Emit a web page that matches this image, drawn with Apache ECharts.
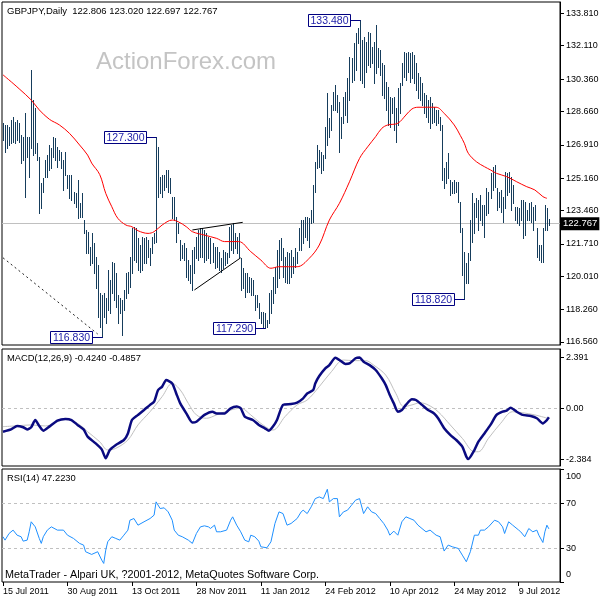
<!DOCTYPE html>
<html><head><meta charset="utf-8">
<script src="https://cdn.jsdelivr.net/npm/echarts@6/dist/echarts.min.js"></script>
<style>html,body{margin:0;padding:0;background:#fff}#c{width:600px;height:600px}</style>
</head><body><div id="c"></div>
<script>
// ---------- data ----------
const N_SLOTS = 277; // bar slots along the time axis (272 bars + empty right margin)
const dateLabels = ['15 Jul 2011','30 Aug 2011','13 Oct 2011','28 Nov 2011','11 Jan 2012','24 Feb 2012','10 Apr 2012','24 May 2012','9 Jul 2012'];
const LABEL_STEP = 32;
const priceTicks = [133.81,132.11,130.36,128.66,126.91,125.16,123.46,121.71,120.01,118.26,116.56];
const macdTicks = [2.391, 0, -2.384];
const rsiTicks = [100, 70, 30, 0];
const lastClose = 122.767;

const barHigh = [
128.04,127.95,127.95,127.86,128.21,128.38,128.12,128.21,128.04,127.42,
127.34,128.56,127.34,127.34,130.83,129.26,128.82,126.99,126.29,124.89,
125.15,126.11,126.37,126.90,126.72,127.34,127.25,126.81,126.64,126.55,
126.11,126.55,125.32,125.32,125.32,124.45,124.36,125.06,123.84,124.36,
122.96,122.44,122.35,121.56,122.26,121.77,121.04,120.60,119.11,119.03,
119.11,118.85,120.34,119.81,120.78,120.69,120.16,119.03,118.85,118.76,
119.29,120.16,120.25,121.04,122.52,122.61,122.52,122.00,121.65,122.09,
122.00,122.09,121.91,121.48,122.09,122.26,127.30,126.81,125.24,125.32,
125.32,125.59,125.59,125.15,124.19,124.19,123.14,122.79,121.91,121.65,
121.74,121.48,120.86,120.60,121.39,121.56,122.09,122.44,122.52,122.52,
122.44,122.26,122.09,122.00,121.74,121.56,121.56,121.30,120.95,121.39,
121.30,121.21,122.61,122.70,122.79,122.26,122.09,122.26,120.95,120.43,
120.16,120.16,119.99,119.90,119.81,119.03,119.03,118.59,118.15,118.15,
118.06,117.71,119.11,119.29,119.99,120.51,121.39,121.91,122.00,121.47,
121.04,121.30,121.21,121.39,121.04,121.47,121.30,122.52,122.96,122.96,
123.14,123.14,123.05,123.49,124.80,126.02,126.90,126.64,126.55,126.37,
127.86,129.61,128.30,128.99,129.70,130.05,129.52,129.17,128.39,129.43,
129.70,130.40,131.53,131.45,132.23,132.76,133.02,133.48,132.41,132.58,
132.32,132.85,132.76,132.06,132.32,133.20,131.99,131.90,131.19,131.10,
130.22,129.96,129.43,129.35,129.43,128.82,129.87,130.14,131.19,131.80,
131.71,131.80,131.71,131.80,131.62,131.19,130.66,130.48,130.14,129.61,
129.52,129.26,129.43,129.09,128.91,128.74,128.74,128.39,127.95,125.67,
126.02,126.46,125.06,124.97,125.06,124.97,124.97,123.93,122.52,121.30,
120.69,121.21,122.96,124.36,123.84,124.10,124.01,124.27,123.75,123.75,
124.62,124.45,125.41,125.76,125.85,124.62,124.45,124.54,124.19,125.50,
125.41,125.50,125.24,124.80,123.66,123.66,123.57,124.01,124.01,123.92,
123.49,123.84,123.92,123.66,123.75,122.52,121.65,121.65,122.52,123.75,
123.57,123.02];
const barLow = [
127.16,126.55,126.72,126.90,126.99,127.07,126.99,127.16,127.07,125.94,
126.11,124.19,126.29,125.24,126.72,126.37,126.46,126.11,123.31,123.57,
124.45,125.24,125.24,125.59,125.67,126.29,126.11,125.76,126.11,125.67,
124.54,125.32,124.62,124.10,124.01,123.84,123.66,123.05,123.14,123.14,
122.26,121.21,121.21,120.60,120.69,120.16,119.38,117.89,117.36,116.83,
117.89,117.54,118.24,118.06,119.11,118.76,118.41,117.54,118.06,116.93,
118.24,118.85,119.11,119.46,120.16,120.86,120.78,120.34,120.25,120.34,
120.69,120.69,121.04,120.60,121.21,121.74,121.83,124.19,124.36,124.19,
124.54,124.71,124.45,124.36,123.05,122.96,121.83,122.26,120.86,120.95,
120.86,119.99,119.81,119.64,119.29,120.16,120.95,120.86,121.04,121.04,
120.78,120.86,120.95,120.69,120.78,120.43,120.51,120.34,120.25,120.43,
120.60,120.69,121.04,121.39,121.21,121.48,121.21,121.04,119.29,119.38,
118.94,119.20,119.20,119.03,119.03,118.24,118.41,117.80,117.54,117.37,
117.29,117.37,117.54,118.06,118.59,119.11,119.46,119.90,120.86,119.99,
119.73,119.64,119.64,119.99,120.16,120.51,120.69,121.39,121.39,121.74,
122.09,121.91,121.56,122.79,122.87,124.45,125.67,125.76,125.41,125.59,
126.20,126.90,127.34,127.69,128.73,128.73,128.65,126.55,127.25,128.04,
128.47,128.12,129.26,130.22,130.31,130.83,132.23,130.31,130.13,129.96,
130.75,131.10,131.01,131.19,130.14,130.66,131.01,130.57,129.52,129.35,
128.74,127.95,127.86,128.56,127.69,127.07,127.95,128.56,130.05,130.48,
130.31,130.75,130.22,130.40,130.14,129.79,129.35,129.26,129.00,128.56,
128.39,128.12,127.77,128.04,128.12,127.95,128.04,127.69,125.06,124.62,
124.89,125.15,124.27,124.36,124.36,124.45,123.93,122.35,120.08,118.82,
119.64,119.64,120.86,121.82,122.26,123.14,122.44,122.96,122.70,122.09,
123.22,123.31,124.10,124.54,124.71,123.49,123.66,123.40,122.87,123.57,
124.27,124.45,123.49,123.84,122.96,122.79,122.70,122.96,122.00,122.17,
122.96,122.96,122.87,122.44,122.96,121.04,120.86,120.77,120.77,122.44,
122.44,122.70];

// moving average [barIndex, price]
const maLine = [[0,130.58],[5,130.13],[8,129.85],[14,129.26],[18,128.74],[23,128.25],[28,127.95],[33,127.51],[38,126.90],[42,126.37],[44,125.95],[48,125.35],[51,124.36],[54,123.66],[57,123.05],[61,122.70],[64,122.61],[67,122.40],[72,122.26],[75,122.35],[79,122.70],[84,122.96],[87,122.87],[91,122.61],[94,122.35],[100,122.17],[106,122.00],[110,121.83],[117,121.83],[123,121.30],[128,120.86],[133,120.43],[137,120.51],[146,120.51],[152,120.95],[157,121.65],[162,122.96],[167,123.84],[172,124.97],[177,126.20],[181,126.80],[185,127.34],[188,127.77],[191,127.95],[196,128.04],[200,128.47],[203,128.79],[206,128.88],[215,128.88],[219,128.56],[224,127.95],[227,127.40],[229,126.99],[231,126.46],[235,126.02],[239,125.76],[242,125.59],[245,125.41],[250,125.24],[255,124.97],[260,124.71],[264,124.54],[268,124.19],[270,124.10]];

// MACD main and signal [barIndex, value]
const macdMain = [[0,-1.10],[4,-0.99],[7,-0.83],[10,-0.89],[12,-0.99],[14,-0.89],[16,-0.55],[18,-0.83],[20,-1.05],[23,-0.86],[27,-0.58],[31,-0.50],[34,-0.55],[37,-0.78],[40,-0.99],[42,-1.33],[46,-1.65],[49,-1.93],[51,-2.35],[53,-1.96],[56,-1.72],[60,-1.49],[62,-1.18],[64,-0.55],[67,-0.31],[70,-0.08],[73,0.16],[75,0.31],[77,0.86],[79,1.02],[81,1.33],[84,1.17],[86,0.70],[88,0.23],[91,-0.24],[94,-0.67],[96,-0.63],[100,-0.31],[104,-0.16],[106,-0.24],[110,-0.24],[113,0.00],[116,0.08],[118,0.00],[120,-0.39],[124,-0.55],[127,-0.78],[130,-0.94],[132,-1.05],[134,-0.86],[136,-0.55],[139,0.16],[143,0.20],[146,0.27],[149,0.47],[151,0.70],[154,0.86],[155,1.17],[157,1.52],[160,1.88],[162,2.03],[165,2.37],[167,2.27],[170,2.08],[172,2.11],[175,2.35],[177,2.391],[179,2.19],[182,2.03],[185,1.80],[188,1.41],[190,1.09],[192,0.62],[194,0.23],[196,-0.16],[198,-0.08],[200,0.16],[203,0.42],[205,0.39],[208,0.16],[211,-0.08],[214,-0.24],[216,-0.47],[219,-0.94],[222,-1.25],[225,-1.49],[228,-1.80],[230,-2.27],[231,-2.384],[234,-1.96],[236,-1.57],[239,-1.18],[242,-0.78],[245,-0.31],[248,-0.16],[250,-0.11],[252,0.03],[255,-0.16],[258,-0.31],[262,-0.36],[265,-0.47],[268,-0.71],[270,-0.55],[271,-0.424]];
const macdSignal = [[0,-0.86],[6,-0.83],[14,-0.78],[21,-0.83],[31,-0.52],[37,-0.71],[42,-1.10],[48,-1.57],[52,-1.96],[56,-1.88],[62,-1.49],[67,-0.78],[73,-0.16],[79,0.55],[84,1.17],[88,0.86],[92,0.23],[96,-0.31],[101,-0.47],[106,-0.31],[113,-0.08],[118,0.00],[123,-0.31],[128,-0.71],[134,-1.02],[140,-0.39],[146,0.16],[151,0.39],[157,1.02],[163,1.72],[169,2.27],[174,2.24],[180,2.24],[184,2.03],[190,1.56],[195,0.70],[199,0.08],[203,0.16],[207,0.26],[211,0.16],[216,-0.16],[222,-0.78],[228,-1.41],[234,-2.04],[236,-2.04],[241,-1.41],[247,-0.71],[253,-0.16],[258,-0.21],[264,-0.31],[271,-0.486]];

// RSI(14) [barIndex, value]
const rsiLine = [[0,40.2],[1,37.2],[3,43.1],[5,46.1],[7,41.6],[9,40.2],[10,36.3],[12,37.2],[13,44.6],[14,53.5],[16,49.0],[18,38.7],[19,34.3],[20,40.2],[22,46.1],[24,49.0],[27,46.1],[30,46.1],[32,41.6],[35,38.7],[38,34.3],[40,32.8],[41,26.9],[44,24.5],[47,26.9],[49,19.5],[50,16.5],[51,28.3],[52,35.8],[54,40.2],[56,38.7],[58,37.2],[60,41.6],[62,46.1],[63,54.9],[65,56.4],[67,50.5],[70,53.5],[73,56.4],[75,59.4],[76,71.2],[78,65.3],[80,65.9],[82,62.3],[84,54.9],[85,46.1],[87,41.6],[89,40.2],[92,37.2],[94,34.3],[96,43.1],[98,49.0],[100,49.9],[102,49.0],[103,47.6],[105,50.5],[106,44.6],[108,44.6],[111,46.1],[113,54.9],[114,57.9],[116,50.5],[118,44.6],[120,37.2],[122,35.7],[123,41.6],[125,40.2],[127,36.3],[128,31.3],[131,30.4],[133,35.7],[135,52.0],[137,62.3],[139,60.8],[141,50.5],[143,52.0],[146,56.4],[148,62.3],[149,63.8],[151,60.8],[153,66.8],[155,74.1],[157,75.6],[159,74.1],[161,82.4],[162,71.2],[164,74.1],[166,74.1],[167,57.9],[169,62.3],[171,63.8],[173,68.2],[175,72.7],[177,74.1],[179,60.8],[181,66.8],[183,62.3],[185,60.8],[187,56.4],[189,52.0],[191,46.1],[192,41.6],[194,45.2],[196,41.6],[198,53.5],[200,57.9],[202,56.4],[204,54.9],[206,50.5],[208,47.5],[210,44.6],[212,46.1],[214,43.1],[215,41.6],[217,40.2],[219,27.5],[221,32.8],[223,31.3],[226,29.8],[228,23.9],[230,18.0],[232,26.9],[234,41.6],[236,41.6],[237,46.1],[239,46.1],[241,49.0],[244,54.9],[246,53.5],[248,49.0],[249,43.1],[251,53.5],[253,50.5],[256,46.1],[257,44.6],[259,40.2],[261,47.5],[263,44.6],[265,46.1],[266,41.6],[268,35.1],[269,44.6],[270,50.5],[271,47.2]];

// price annotations [barIndex, price] and their texts
const annoPoints = [[177,133.48],[76,127.30],[49,116.83],[130,117.29],[229,118.82]];
const annoText = ['133.480','127.300','116.830','117.290','118.820'];
// drawn trend lines [[i1,p1],[i2,p2]]
const triUpper = [[94,122.44],[119,122.84]];
const triLower = [[95,119.29],[118,120.98]];
const dotLine = [[0,120.98],[47,116.98]];

// ---------- chart ----------
const FONT = '"Liberation Sans", Arial, sans-serif';
const cats = Array.from({length: N_SLOTS}, (_, i) => String(i));
const barData = barHigh.map((h, i) => [i, h, barLow[i]]);
const showDate = (idx) => idx % LABEL_STEP === 0 && idx / LABEL_STEP < dateLabels.length;

function gridOf(top, height) {
  return {left: 2, top: top, width: 558, height: height, show: true, borderColor: '#000', borderWidth: 1,
          backgroundColor: 'transparent', containLabel: false, outerBoundsMode: 'none'};
}
function xAxisOf(k) {
  return {
    type: 'category', gridIndex: k, data: cats, boundaryGap: true, show: k === 2,
    axisLine: {show: false},
    axisTick: {show: true, interval: showDate, alignWithLabel: true, length: 4, lineStyle: {color: '#000'}},
    axisLabel: {show: true, interval: showDate, formatter: (v, idx) => dateLabels[Math.round(idx / LABEL_STEP)],
      align: 'left', margin: 5, color: '#000', fontSize: 9, fontFamily: FONT},
    splitLine: {show: false}
  };
}
function yAxisOf(k, min, max, ticks, fmt, extra) {
  return Object.assign({
    type: 'value', gridIndex: k, position: 'right', min: min, max: max, scale: true,
    axisLine: {show: true, lineStyle: {color: '#000', width: 1}},
    axisTick: {show: true, customValues: ticks, length: 4, lineStyle: {color: '#000'}},
    axisLabel: {show: true, customValues: ticks, formatter: fmt, margin: 6, color: '#000', fontSize: 9, fontFamily: FONT},
    splitLine: {show: false}
  }, extra || {});
}

const rsiAxis = yAxisOf(2, 0, 100.4, rsiTicks, v => v === 100 ? '{d|100}' : (v === 0 ? '{u|0}' : String(v)));
rsiAxis.axisLabel.rich = {
  d: {padding: [14, 0, 0, 0], fontSize: 9, fontFamily: FONT, color: '#000'},
  u: {padding: [0, 0, 14, 0], fontSize: 9, fontFamily: FONT, color: '#000'}
};

function renderBar(params, api) {
  const i = api.value(0);
  const hi = api.coord([i, api.value(1)]);
  const lo = api.coord([i, api.value(2)]);
  const x = Math.round(hi[0]) + 0.5;
  return {type: 'line', shape: {x1: x, y1: Math.round(hi[1]), x2: x, y2: Math.round(lo[1]) + 1},
          style: {stroke: '#163d5c', lineWidth: 1}};
}
function renderAnno(params, api) {
  const p = api.coord([api.value(0), api.value(1)]);
  const x = Math.round(p[0]) + 0.5, y = Math.round(p[1]) + 0.5;
  return {type: 'group', children: [
    {type: 'line', shape: {x1: x - 10, y1: y, x2: x, y2: y}, style: {stroke: '#000080', lineWidth: 1}},
    {type: 'rect', shape: {x: x - 52, y: y - 6, width: 42, height: 12}, style: {fill: '#fff', stroke: '#000080', lineWidth: 1}},
    {type: 'text', style: {text: annoText[params.dataIndex], x: x - 31, y: y + 0.5, align: 'center', verticalAlign: 'middle',
      fill: '#1c1ca8', font: '10.5px ' + FONT}}
  ]};
}
function segment(data, dash, color) {
  return {type: 'line', xAxisIndex: 0, yAxisIndex: 0, data: data, symbol: 'none', silent: true, z: 4,
          lineStyle: {color: color, width: 1, type: dash || 'solid'}};
}

const option = {
  animation: false,
  backgroundColor: '#fff',
  grid: [gridOf(2, 343), gridOf(349, 117), gridOf(469, 113)],
  xAxis: [xAxisOf(0), xAxisOf(1), xAxisOf(2)],
  yAxis: [
    yAxisOf(0, 116.403, 134.403, priceTicks, v => v.toFixed(3)),
    yAxisOf(1, -2.711, 2.787, macdTicks, v => v === 0 ? '0.00' : v.toFixed(3)),
    rsiAxis
  ],
  graphic: [
    {type: 'text', x: 96, y: 62, z: -10, style: {text: 'ActionForex.com', font: '24px ' + FONT, fill: '#c4c4c4', verticalAlign: 'middle'}},
    {type: 'text', x: 7, y: 11, style: {text: 'GBPJPY,Daily  122.806 123.020 122.697 122.767', font: '9.5px ' + FONT, fill: '#000', verticalAlign: 'middle'}},
    {type: 'text', x: 7, y: 358.5, style: {text: 'MACD(12,26,9) -0.4240 -0.4857', font: '9.4px ' + FONT, fill: '#000', verticalAlign: 'middle'}},
    {type: 'text', x: 7, y: 478.5, style: {text: 'RSI(14) 47.2230', font: '9.4px ' + FONT, fill: '#000', verticalAlign: 'middle'}},
    {type: 'text', x: 5, y: 575.5, style: {text: 'MetaTrader - Alpari UK, ?2001-2012, MetaQuotes Software Corp.', font: '10.8px ' + FONT, fill: '#000', verticalAlign: 'middle'}}
  ],
  series: [
    {name: 'MA', type: 'line', xAxisIndex: 0, yAxisIndex: 0, data: maLine, symbol: 'none', smooth: 0.35, silent: true, z: 3,
     lineStyle: {color: '#ff0000', width: 1},
     markLine: {silent: true, z: 1, symbol: ['none', 'none'], animation: false,
       lineStyle: {color: '#c0c0c0', width: 1, type: 'solid'},
       label: {show: true, position: 'end', distance: 1, formatter: lastClose.toFixed(3), color: '#fff', backgroundColor: '#000',
               padding: [2, 2, 1, 2], fontSize: 9.5, fontFamily: FONT},
       data: [{yAxis: lastClose}]}},
    {name: 'bars', type: 'custom', xAxisIndex: 0, yAxisIndex: 0, data: barData, renderItem: renderBar, z: 2, silent: true,
     encode: {x: 0, y: [1, 2]}},
    segment(triUpper, 'solid', '#000'),
    segment(triLower, 'solid', '#000'),
    segment(dotLine, [2, 3], '#222'),
    {name: 'anno', type: 'custom', xAxisIndex: 0, yAxisIndex: 0, data: annoPoints, renderItem: renderAnno, z: 6, silent: true, clip: false,
     encode: {x: 0, y: 1}},
    {name: 'signal', type: 'line', xAxisIndex: 1, yAxisIndex: 1, data: macdSignal, symbol: 'none', smooth: 0.35, silent: true, z: 2,
     lineStyle: {color: '#c0c0c0', width: 1},
     markLine: {silent: true, z: 1, symbol: ['none', 'none'], label: {show: false},
       lineStyle: {color: '#c0c0c0', width: 1, type: [3, 3]}, data: [{yAxis: 0}]}},
    {name: 'macd', type: 'line', xAxisIndex: 1, yAxisIndex: 1, data: macdMain, symbol: 'none', smooth: 0.2, silent: true, z: 3,
     lineStyle: {color: '#0a0a80', width: 2.5}},
    {name: 'rsi', type: 'line', xAxisIndex: 2, yAxisIndex: 2, data: rsiLine, symbol: 'none', silent: true, z: 3,
     lineStyle: {color: '#1e90ff', width: 1},
     markLine: {silent: true, z: 1, symbol: ['none', 'none'], label: {show: false},
       lineStyle: {color: '#c0c0c0', width: 1, type: [3, 3]}, data: [{yAxis: 70}, {yAxis: 30}]}}
  ]
};

const chart = echarts.init(document.getElementById('c'), null, {renderer: 'canvas'});
chart.setOption(option);
</script></body></html>
